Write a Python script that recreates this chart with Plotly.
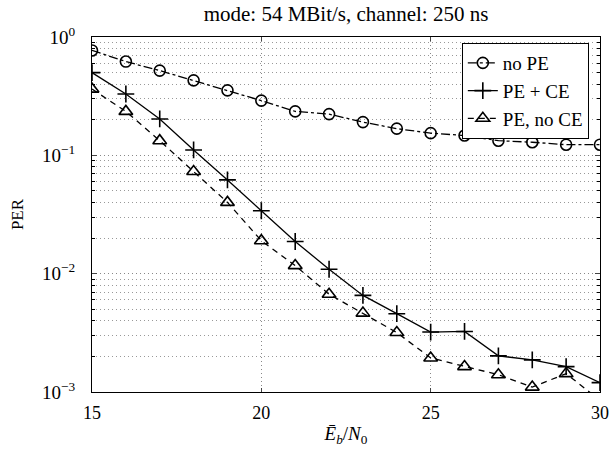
import plotly.graph_objects as go

# Data
ebn0 = list(range(15, 31))
per_no_pe = [0.77, 0.62, 0.52, 0.43, 0.354, 0.29, 0.235, 0.223, 0.191, 0.168,
             0.154, 0.147, 0.133, 0.129, 0.123, 0.123]
per_pe_ce = [0.50, 0.33, 0.203, 0.111, 0.062, 0.034, 0.0187, 0.0109, 0.00655,
             0.00459, 0.00321, 0.00325, 0.00202, 0.00187, 0.00164, 0.0012]
per_pe_noce = [0.363, 0.235, 0.133, 0.073, 0.040, 0.019, 0.0117, 0.0067,
               0.00464, 0.00318, 0.00194, 0.00164, 0.0014, 0.0011, 0.00143,
               0.00085]

x_ticks = [15, 20, 25, 30]
y_ticks = [1e-3, 1e-2, 1e-1, 1e0]
y_ticktext = ["10<sup>\u22123</sup>", "10<sup>\u22122</sup>",
              "10<sup>\u22121</sup>", "10<sup>0</sup>"]
y_minor = [m * 10.0 ** e for e in (-3, -2, -1) for m in range(2, 10)]

title_text = "mode: 54 MBit/s, channel: 250 ns"
series_names = ["no PE", "PE + CE", "PE, no CE"]

serif = "Liberation Serif, Times New Roman, serif"
grid_dash = "1px,3px"

fig = go.Figure()
fig.add_trace(go.Scatter(
    x=ebn0, y=per_no_pe, name=series_names[0], mode="lines+markers",
    line=dict(color="black", width=1.3, dash="dashdot"),
    marker=dict(symbol="circle-open", size=11, color="black",
                line=dict(width=1.6, color="black"))))
fig.add_trace(go.Scatter(
    x=ebn0, y=per_pe_ce, name=series_names[1], mode="lines+markers",
    line=dict(color="black", width=1.3),
    marker=dict(symbol="cross-thin-open", size=12, color="black",
                line=dict(width=1.6, color="black"))))
fig.add_trace(go.Scatter(
    x=ebn0, y=per_pe_noce, name=series_names[2], mode="lines+markers",
    line=dict(color="black", width=1.3, dash="6px,5px"),
    marker=dict(symbol="triangle-up-open", size=12, color="black",
                line=dict(width=1.6, color="black"))))

fig.update_layout(
    width=615, height=452,
    margin=dict(l=92, r=15, t=37, b=60, autoexpand=False),
    paper_bgcolor="white", plot_bgcolor="white",
    font=dict(family=serif, color="black", size=16),
    title=dict(text=title_text, x=346 / 615, xanchor="center",
               y=1 - 14 / 452, yanchor="middle",
               font=dict(family=serif, size=21)),
    showlegend=True,
    legend=dict(x=0.978, xanchor="right", y=0.983, yanchor="top",
                bgcolor="white", bordercolor="black", borderwidth=1,
                font=dict(family=serif, size=19), itemwidth=30,
                tracegroupgap=0),
    xaxis=dict(
        range=[15, 30], tickvals=x_ticks, ticks="inside", ticklen=4,
        showline=True, linecolor="black", linewidth=1.3, mirror="ticks",
        showgrid=True, gridcolor="#888", griddash=grid_dash, gridwidth=1,
        zeroline=False, tickfont=dict(size=18), ticklabelstandoff=4,
        title=dict(text="<i>E\u0304<sub>b</sub></i>/<i>N</i><sub>0</sub>",
                   font=dict(size=19), standoff=4)),
    yaxis=dict(
        type="log", range=[-3, 0], tickvals=y_ticks, ticktext=y_ticktext,
        ticks="inside", ticklen=5, showline=True, linecolor="black",
        linewidth=1.3, mirror="ticks",
        showgrid=True, gridcolor="#888", griddash=grid_dash, gridwidth=1,
        zeroline=False, tickfont=dict(size=19), ticklabelstandoff=12,
        minor=dict(tickvals=y_minor, ticks="inside", ticklen=3,
                   showgrid=True, gridcolor="#999", griddash=grid_dash,
                   gridwidth=1, tickcolor="black"),
        title=dict(text="PER", font=dict(size=17), standoff=13)),
)

fig.write_html("out.html",
               config={"displayModeBar": False},
               post_script="document.body.style.margin='0';")
